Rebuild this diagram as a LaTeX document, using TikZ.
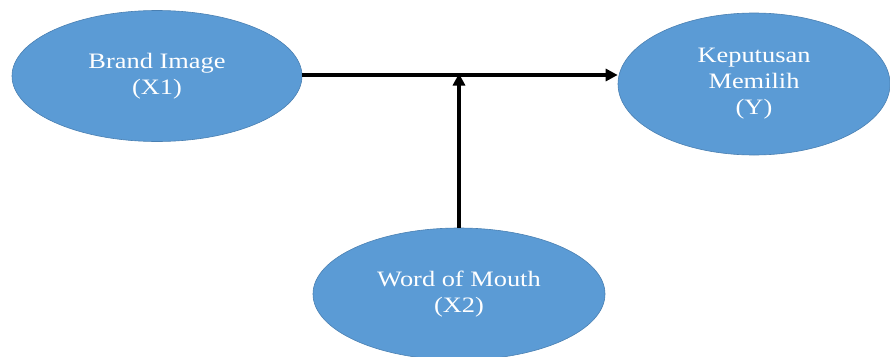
\documentclass[tikz,border=0pt]{standalone}
\usepackage{fontspec}
\setmainfont{Liberation Serif}[FakeStretch=1.2]
\usetikzlibrary{arrows.meta,shapes.geometric}
\definecolor{fillblue}{HTML}{5B9BD5}
\definecolor{edgeblue}{HTML}{4A80B2}
\begin{document}
\begin{tikzpicture}[x=1pt,y=-1pt,
  var/.style={ellipse, draw=edgeblue, line width=0.6pt, fill=fillblue, inner sep=0pt,
    text=white, align=center, font=\fontsize{22}{26}\selectfont},
  link/.style={line width=3.6pt, -{Triangle[length=12pt,width=12pt]}}]
\useasboundingbox (0,0) rectangle (890,356);
\node[var, minimum width=290pt, minimum height=131pt] (bi) at (157,76) {Brand Image\\(X1)};
\node[var, minimum width=272pt, minimum height=142pt] (kp) at (754,84) {Keputusan\\Memilih\\(Y)};
\node[var, minimum width=292pt, minimum height=132pt] (wm) at (459,294) {Word of Mouth\\(X2)};
\coordinate (j) at (459,75);
\draw[link] (bi.east |- j) -- (kp.west |- j);
\draw[link] (wm.north) -- ([yshift=1.5pt]j);
\end{tikzpicture}
\end{document}
